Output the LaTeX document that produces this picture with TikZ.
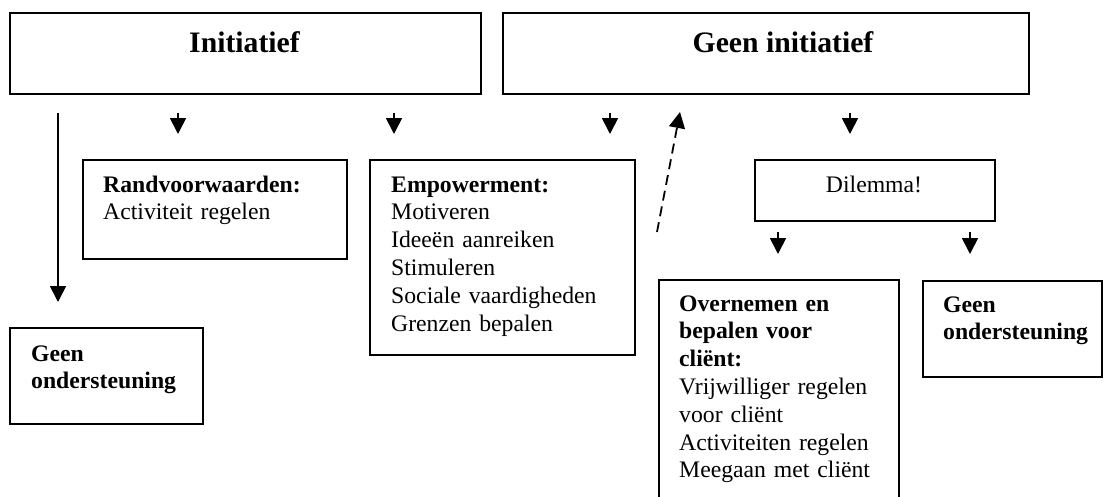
\documentclass[tikz,border=0pt]{standalone}
\usepackage{fontspec}
\setmainfont{Liberation Serif}
\usetikzlibrary{arrows.meta,calc}
\begin{document}
\begin{tikzpicture}[x=1pt,y=-1pt,
  box/.style={draw, line width=1.8pt, rectangle, inner sep=0pt, anchor=north west},
  body/.style={font=\fontsize{23.7}{27.8}\selectfont, inner sep=0pt, text width=250pt, align=left, anchor=base west},
  single/.style={font=\fontsize{23.7}{27.8}\selectfont, inner sep=0pt, anchor=base},
  headline/.style={font=\fontsize{29.7}{34}\selectfont\bfseries, inner sep=0pt, anchor=base},
  arr/.style={line width=1.8pt, -{Triangle[width=16pt,length=16pt]}},
  dasharr/.style={arr, dash pattern=on 10pt off 6pt}]
\clip (0,0) rectangle (1104,496);

% top row
\node[box, minimum width=471pt, minimum height=81pt] (init) at (9,12) {};
\node[headline] (initT) at (244.5,52) {Initiatief};
\node[box, minimum width=526pt, minimum height=81pt] (geen) at (502,12) {};
\node[headline] (geenT) at (783,52) {Geen initiatief};

% middle row
\node[box, minimum width=264pt, minimum height=99pt] (rand) at (82,159) {};
\node[body] (randT) at (103,192) {\textbf{Randvoorwaarden:}\\Activiteit regelen};
\node[box, minimum width=265pt, minimum height=195pt] (emp) at (369,159) {};
\node[body] (empT) at (391,192) {\textbf{Empowerment:}\\Motiveren\\Ideeën aanreiken\\Stimuleren\\Sociale vaardigheden\\Grenzen bepalen};
\node[box, minimum width=240pt, minimum height=61pt] (dil) at (754,159) {};
\node[single] (dilT) at (874,192) {Dilemma!};

% lower row
\node[box, minimum width=193pt, minimum height=96pt] (geen1) at (9,327) {};
\node[body] (geen1T) at (31,361) {\textbf{Geen}\\\textbf{ondersteuning}};
\node[box, minimum width=240pt, minimum height=240pt] (over) at (658,279) {};
\node[body] (overT) at (679,311) {\textbf{Overnemen en}\\\textbf{bepalen voor}\\\textbf{cliënt:}\\Vrijwilliger regelen\\voor cliënt\\Activiteiten regelen\\Meegaan met cliënt};
\node[box, minimum width=179pt, minimum height=96pt] (geen2) at (922,280) {};
\node[body] (geen2T) at (943,312) {\textbf{Geen}\\\textbf{ondersteuning}};

% arrow columns
\coordinate (c1) at (58,0);
\coordinate (c2) at (178,0);
\coordinate (c3) at (394,0);
\coordinate (c4) at (610,0);
\coordinate (c5) at (850,0);
\coordinate (c6) at (778,0);
\coordinate (c7) at (970,0);
\coordinate (ds) at (657,232);
\coordinate (de) at (680,112);

\draw[arr, shorten <=18pt, shorten >=25pt] (init.south -| c1) -- (geen1.north -| c1);
\draw[arr, shorten <=18pt, shorten >=25pt] (init.south -| c2) -- (rand.north -| c2);
\draw[arr, shorten <=18pt, shorten >=25pt] (init.south -| c3) -- (emp.north -| c3);
\draw[arr, shorten <=18pt, shorten >=25pt] (geen.south -| c4) -- (emp.north -| c4);
\draw[arr, shorten <=18pt, shorten >=25pt] (geen.south -| c5) -- (dil.north -| c5);
\draw[arr, shorten <=10pt, shorten >=25pt] (dil.south -| c6) -- (over.north -| c6);
\draw[arr, shorten <=10pt, shorten >=26pt] (dil.south -| c7) -- (geen2.north -| c7);
\draw[dasharr] (ds) -- (de);
\end{tikzpicture}
\end{document}
